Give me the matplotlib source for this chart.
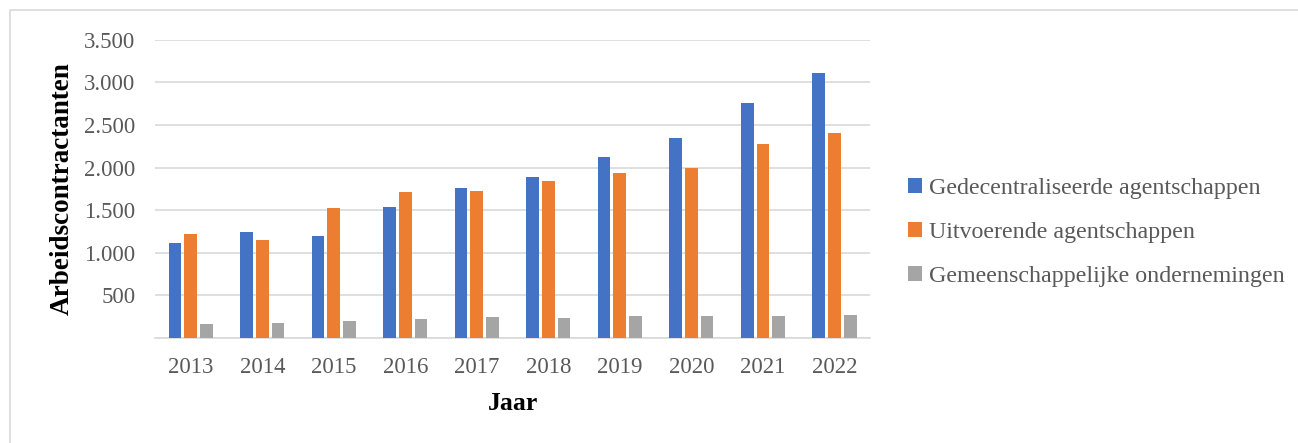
import numpy as np
import matplotlib
matplotlib.use('Agg')
from matplotlib import pyplot as plt
from matplotlib.patches import Rectangle
from matplotlib.ticker import FuncFormatter

# data
years = ['2013', '2014', '2015', '2016', '2017', '2018', '2019', '2020', '2021', '2022']
gedecentraliseerd = [1120, 1245, 1200, 1540, 1765, 1893, 2120, 2350, 2762, 3110]
uitvoerend = [1222, 1150, 1530, 1714, 1725, 1847, 1937, 1992, 2281, 2402]
gemeenschappelijk = [168, 176, 203, 219, 243, 239, 254, 254, 258, 270]
series_names = ['Gedecentraliseerde agentschappen', 'Uitvoerende agentschappen',
				'Gemeenschappelijke ondernemingen']

plt.rcParams['font.family'] = ['Liberation Serif', 'DejaVu Serif']

fig = plt.figure(figsize=(12.98, 4.43), dpi=100)
# outer chart border
fig.patches.append(Rectangle((10 / 1298, -0.1), 1.2, 1.1 - 10 / 443, transform=fig.transFigure,
							 fill=False, edgecolor='#d9d9d9', linewidth=1.2))

ax = fig.add_axes([0.1194, 0.237, 0.551, 0.673])

x = np.arange(len(years))
step = 0.22
width = 0.178
colors = ['#4472c4', '#ed7d31', '#a5a5a5']
bars = []
for i, vals in enumerate([gedecentraliseerd, uitvoerend, gemeenschappelijk]):
	b = ax.bar(x + (i - 1) * step, vals, width, color=colors[i], zorder=3)
	bars.append(b)

ax.set_xlim(-0.5, len(years) - 0.5)
ax.set_ylim(0, 3500)
ax.set_yticks(np.arange(0, 3501, 500))
ax.yaxis.set_major_formatter(FuncFormatter(lambda v, p: '' if v == 0 else '{:,.0f}'.format(v).replace(',', '.')))
ax.set_xticks(x)
ax.set_xticklabels(years)
ax.grid(axis='y', color='#d9d9d9', linewidth=1.2, zorder=0)
for s in ['top', 'right', 'left']:
	ax.spines[s].set_visible(False)
ax.spines['bottom'].set_color('#d9d9d9')
ax.spines['bottom'].set_linewidth(1.2)
ax.tick_params(axis='both', length=0, labelsize=16.5, labelcolor='#595959')
ax.tick_params(axis='x', pad=14)
ax.tick_params(axis='y', pad=14)

ax.set_ylabel('Arbeidscontractanten', fontsize=19.5, fontweight='bold', labelpad=7)
ax.set_xlabel('Jaar', fontsize=18.5, fontweight='bold', labelpad=10)

leg = ax.legend([b[0] for b in bars], series_names, loc='center left', bbox_to_anchor=(1.022, 0.355),
				frameon=False, fontsize=17.3, handlelength=0.6, handleheight=0.6,
				handletextpad=0.3, labelspacing=0.95)
for t in leg.get_texts():
	t.set_color('#595959')

plt.savefig('out.png', dpi=100)
